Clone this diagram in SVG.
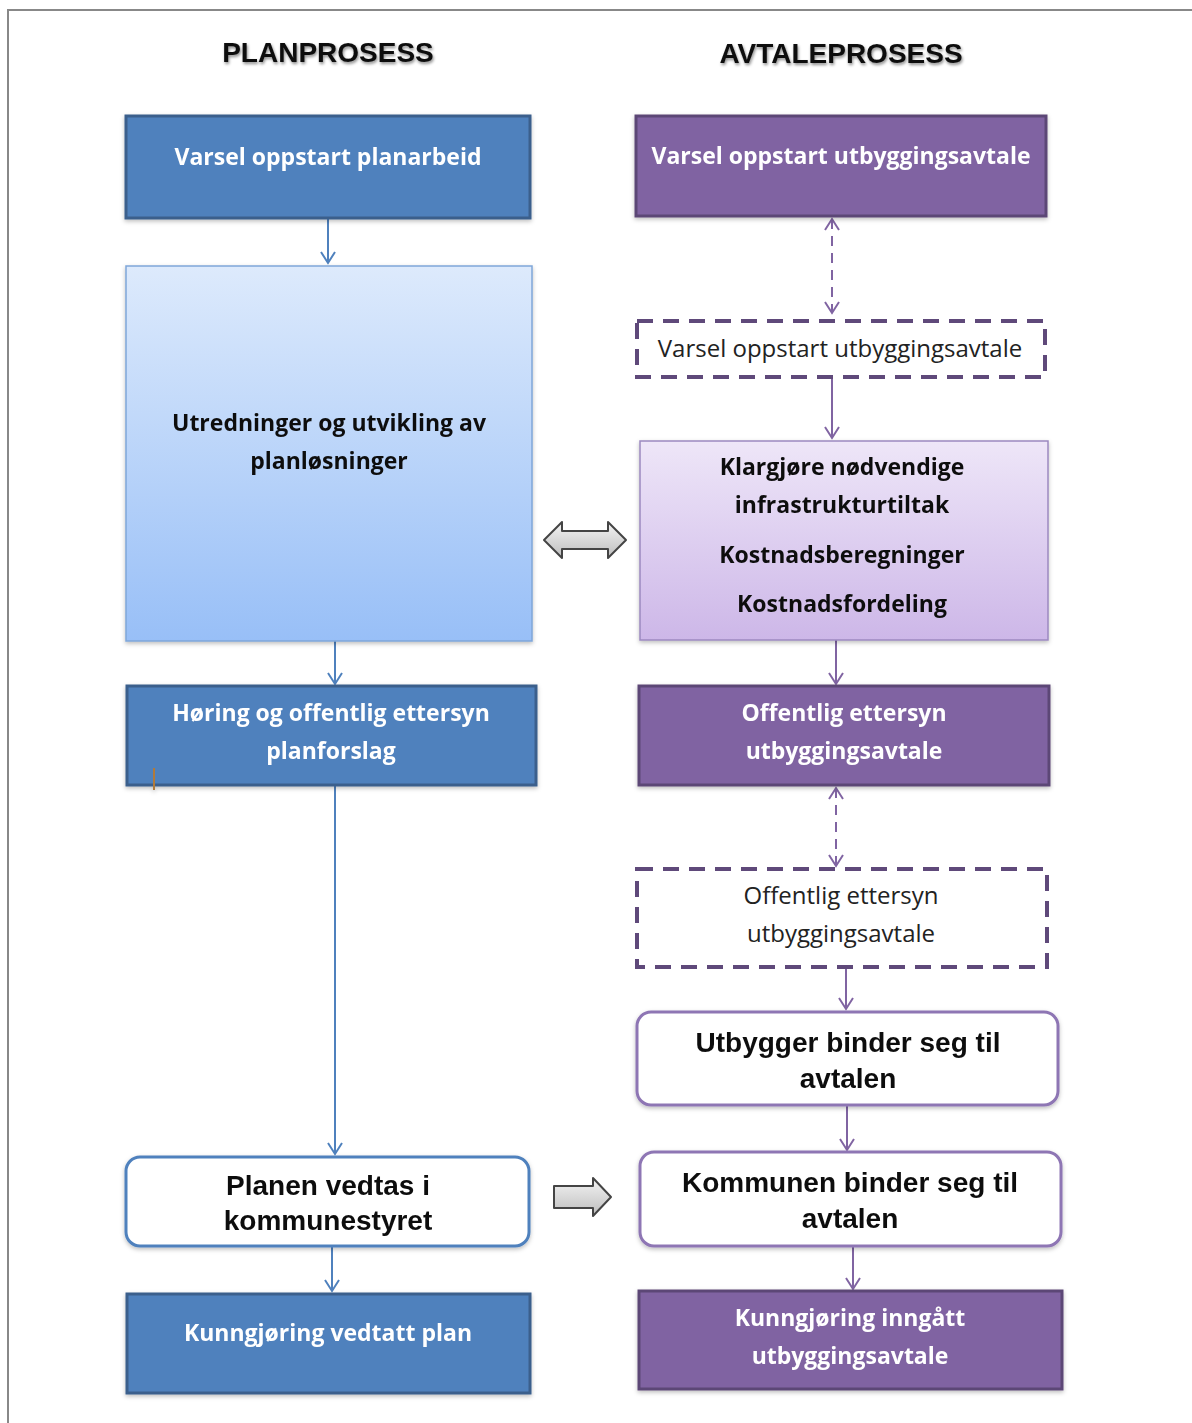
<svg xmlns="http://www.w3.org/2000/svg" width="1192" height="1423" viewBox="0 0 1192 1423">
<style>
.title{font-family:"Liberation Sans",Arial,sans-serif;font-weight:bold;font-size:28px;fill:#111;text-anchor:middle}
.wt{font-family:"Open Sans","Noto Sans",sans-serif;font-weight:bold;font-size:23px;fill:#fff;text-anchor:middle}
.dk{font-family:"Open Sans","Noto Sans",sans-serif;font-weight:bold;font-size:23px;fill:#111;text-anchor:middle}
.rg{font-family:"Open Sans","Noto Sans",sans-serif;font-size:24px;fill:#222;text-anchor:middle}
.ar{font-family:"Liberation Sans",Arial,sans-serif;font-weight:bold;font-size:28px;fill:#111;text-anchor:middle}
.blue{fill:#4F81BD;stroke:#3A5F8C;stroke-width:3}
.purple{fill:#8064A2;stroke:#5C4776;stroke-width:3}
.dash{fill:#fff;stroke:#5F497A;stroke-width:4;stroke-dasharray:16 10}
.rb{fill:#fff;stroke:#4F81BD;stroke-width:3}
.rp{fill:#fff;stroke:#8E76B4;stroke-width:3}
.cb{stroke:#4F81BD;stroke-width:2;fill:none}
.cp{stroke:#8064A2;stroke-width:2;fill:none}
.cpd{stroke:#8064A2;stroke-width:2;fill:none;stroke-dasharray:10 7}
.block{fill:url(#gg);stroke:#444;stroke-width:2;stroke-linejoin:round}
</style>
<defs>
<linearGradient id="gb" x1="0" y1="0" x2="0" y2="1"><stop offset="0" stop-color="#DDEAFC"/><stop offset="1" stop-color="#98BFF7"/></linearGradient>
<linearGradient id="gpur" x1="0" y1="0" x2="0" y2="1"><stop offset="0" stop-color="#EEE6F8"/><stop offset="1" stop-color="#CDB7E8"/></linearGradient>
<linearGradient id="gg" x1="0" y1="0" x2="0" y2="1"><stop offset="0" stop-color="#F4F4F4"/><stop offset="1" stop-color="#BDBDBD"/></linearGradient>
<filter id="ts" x="-10%" y="-30%" width="120%" height="160%"><feDropShadow dx="1" dy="2" stdDeviation="1.5" flood-color="#000" flood-opacity="0.45"/></filter>
<filter id="bs" x="-5%" y="-5%" width="110%" height="115%"><feDropShadow dx="0" dy="2" stdDeviation="2" flood-color="#000" flood-opacity="0.25"/></filter>
<marker id="ab" markerWidth="16" markerHeight="16" refX="13" refY="8" orient="auto" markerUnits="userSpaceOnUse"><polyline points="2,1 13,8 2,15" fill="none" stroke="#4F81BD" stroke-width="2"/></marker>
<marker id="ap" markerWidth="16" markerHeight="16" refX="13" refY="8" orient="auto" markerUnits="userSpaceOnUse"><polyline points="2,1 13,8 2,15" fill="none" stroke="#8064A2" stroke-width="2"/></marker>
<marker id="aps" markerWidth="16" markerHeight="16" refX="3" refY="8" orient="auto" markerUnits="userSpaceOnUse"><polyline points="14,1 3,8 14,15" fill="none" stroke="#8064A2" stroke-width="2"/></marker>
</defs>
<rect width="1192" height="1423" fill="#fff"/>
<path d="M8,1423 V10 H1192" fill="none" stroke="#888" stroke-width="2"/>

<g id="titles">
<text class="title" x="328" y="62" filter="url(#ts)">PLANPROSESS</text>
<text class="title" x="841" y="63" filter="url(#ts)">AVTALEPROSESS</text>
</g>

<g id="connectors">
<line class="cb" x1="328" y1="218" x2="328" y2="263" marker-end="url(#ab)"/>
<line class="cb" x1="335" y1="641" x2="335" y2="684" marker-end="url(#ab)"/>
<line class="cb" x1="335" y1="785" x2="335" y2="1154" marker-end="url(#ab)"/>
<line class="cb" x1="332" y1="1246" x2="332" y2="1291" marker-end="url(#ab)"/>
<line class="cpd" x1="832" y1="219" x2="832" y2="313" marker-start="url(#aps)" marker-end="url(#ap)"/>
<line class="cp" x1="832" y1="377" x2="832" y2="438" marker-end="url(#ap)"/>
<line class="cp" x1="836" y1="640" x2="836" y2="684" marker-end="url(#ap)"/>
<line class="cpd" x1="836" y1="788" x2="836" y2="866" marker-start="url(#aps)" marker-end="url(#ap)"/>
<line class="cp" x1="846" y1="967" x2="846" y2="1009" marker-end="url(#ap)"/>
<line class="cp" x1="847" y1="1105" x2="847" y2="1150" marker-end="url(#ap)"/>
<line class="cp" x1="853" y1="1246" x2="853" y2="1289" marker-end="url(#ap)"/>
<path id="dbl-arrow" class="block" d="M544,540 L562,522 L562,531 L608,531 L608,522 L626,540 L608,558 L608,549 L562,549 L562,558 Z"/>
<path id="right-arrow" class="block" d="M554,1186 L593,1186 L593,1178 L611,1197 L593,1216 L593,1208 L554,1208 Z"/>
</g>

<g id="n-varsel-plan" filter="url(#bs)">
<rect class="blue" x="126" y="116" width="404" height="102"/>
<text class="wt" x="328" y="165">Varsel oppstart planarbeid</text>
</g>
<g id="n-utredninger" filter="url(#bs)">
<rect x="126" y="266" width="406" height="375" fill="url(#gb)" stroke="#7FA6D9" stroke-width="1.5"/>
<text class="dk" x="329" y="431">Utredninger og utvikling av</text>
<text class="dk" x="329" y="469">planløsninger</text>
</g>
<g id="n-horing" filter="url(#bs)">
<rect class="blue" x="127" y="686" width="409" height="99"/>
<text class="wt" x="331" y="721">Høring og offentlig ettersyn</text>
<text class="wt" x="331" y="759">planforslag</text>
<line x1="154" y1="768" x2="154" y2="790" stroke="#B07A3A" stroke-width="2"/>
</g>
<g id="n-planen-vedtas" filter="url(#bs)">
<rect class="rb" x="126" y="1157" width="403" height="89" rx="14"/>
<text class="ar" x="328" y="1195">Planen vedtas i</text>
<text class="ar" x="328" y="1230">kommunestyret</text>
</g>
<g id="n-kunngjoring-plan" filter="url(#bs)">
<rect class="blue" x="127" y="1294" width="403" height="99"/>
<text class="wt" x="328" y="1341">Kunngjøring vedtatt plan</text>
</g>

<g id="n-varsel-avtale" filter="url(#bs)">
<rect class="purple" x="636" y="116" width="410" height="100"/>
<text class="wt" x="841" y="164">Varsel oppstart utbyggingsavtale</text>
</g>
<g id="n-varsel-avtale-dashed">
<rect class="dash" x="637" y="321" width="408" height="56"/>
<text class="rg" x="840" y="357">Varsel oppstart utbyggingsavtale</text>
</g>
<g id="n-klargjore" filter="url(#bs)">
<rect x="640" y="441" width="408" height="199" fill="url(#gpur)" stroke="#9C89C0" stroke-width="1.5"/>
<text class="dk" x="842" y="475">Klargjøre nødvendige</text>
<text class="dk" x="842" y="513">infrastrukturtiltak</text>
<text class="dk" x="842" y="563">Kostnadsberegninger</text>
<text class="dk" x="842" y="612">Kostnadsfordeling</text>
</g>
<g id="n-offentlig" filter="url(#bs)">
<rect class="purple" x="639" y="686" width="410" height="99"/>
<text class="wt" x="844" y="721">Offentlig ettersyn</text>
<text class="wt" x="844" y="759">utbyggingsavtale</text>
</g>
<g id="n-offentlig-dashed">
<rect class="dash" x="637" y="869" width="410" height="98"/>
<text class="rg" x="841" y="904">Offentlig ettersyn</text>
<text class="rg" x="841" y="942">utbyggingsavtale</text>
</g>
<g id="n-utbygger" filter="url(#bs)">
<rect class="rp" x="637" y="1012" width="421" height="93" rx="14"/>
<text class="ar" x="848" y="1052">Utbygger binder seg til</text>
<text class="ar" x="848" y="1088">avtalen</text>
</g>
<g id="n-kommunen" filter="url(#bs)">
<rect class="rp" x="640" y="1152" width="421" height="94" rx="14"/>
<text class="ar" x="850" y="1192">Kommunen binder seg til</text>
<text class="ar" x="850" y="1228">avtalen</text>
</g>
<g id="n-kunngjoring-avtale" filter="url(#bs)">
<rect class="purple" x="639" y="1291" width="423" height="98"/>
<text class="wt" x="850" y="1326">Kunngjøring inngått</text>
<text class="wt" x="850" y="1364">utbyggingsavtale</text>
</g>
</svg>
